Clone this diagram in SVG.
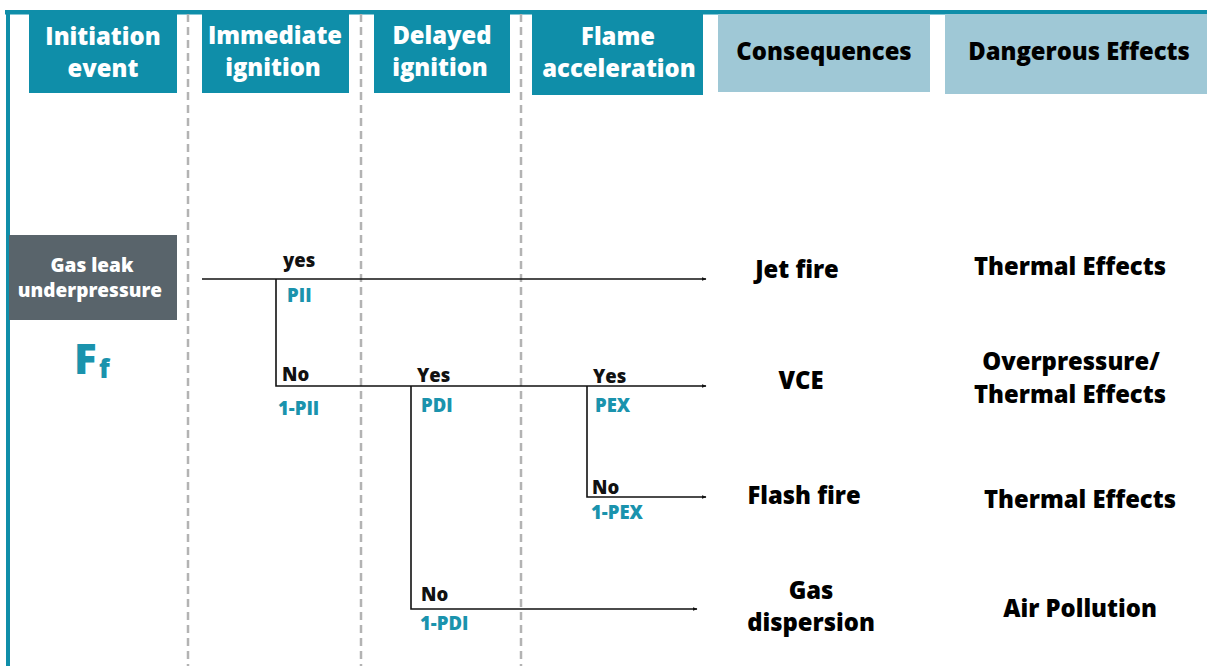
<svg xmlns="http://www.w3.org/2000/svg" width="1207" height="666" viewBox="0 0 1207 666">
<defs>
<marker id="arr" viewBox="0 0 10 10" refX="9" refY="5" markerWidth="5" markerHeight="5" orient="auto" markerUnits="userSpaceOnUse"><path d="M0,1 L10,5 L0,9 z" fill="#111"/></marker>
<style>
text{font-family:"Open Sans","Liberation Sans",sans-serif;font-weight:800}
.hd{fill:#fff;font-size:23.8px;text-anchor:middle}
.hl{fill:#000;font-size:23.8px;text-anchor:middle}
.dark{fill:#0f8ea9}
.light{fill:#9fc8d6}
.dash{stroke:#b3b3b3;stroke-width:2.5;stroke-dasharray:8 5;fill:none}
.ln{stroke:#111;stroke-width:1.6;fill:none}
.lab{fill:#111;font-size:18.5px}
.p{fill:#1a93ad;font-size:18.5px}
.big{fill:#000;font-size:23.8px;text-anchor:middle}
</style>
</defs>
<rect width="1207" height="666" fill="#fff"/>
<g id="frame">
<rect x="5" y="10" width="1202" height="4.5" fill="#0f8ea9"/>
<rect x="6" y="10" width="4" height="656" fill="#0f8ea9"/>
</g>
<g id="dividers">
<line class="dash" x1="188" y1="14" x2="188" y2="666"/>
<line class="dash" x1="361" y1="14" x2="361" y2="666"/>
<line class="dash" x1="521" y1="14" x2="521" y2="666"/>
</g>
<g id="h-initiation"><rect class="dark" x="29" y="14" width="148" height="79"/><text class="hd" x="103" y="45">Initiation</text><text class="hd" x="103" y="77">event</text></g>
<g id="h-immediate"><rect class="dark" x="202" y="10" width="147" height="83"/><text class="hd" x="275" y="44">Immediate</text><text class="hd" x="273" y="76">ignition</text></g>
<g id="h-delayed"><rect class="dark" x="374" y="14" width="136" height="79"/><text class="hd" x="442" y="44">Delayed</text><text class="hd" x="440" y="76">ignition</text></g>
<g id="h-flame"><rect class="dark" x="532" y="14" width="171" height="81"/><text class="hd" x="618" y="45">Flame</text><text class="hd" x="619" y="77">acceleration</text></g>
<g id="h-consequences"><rect class="light" x="718" y="14" width="212" height="78"/><text class="hl" x="824" y="60">Consequences</text></g>
<g id="h-effects"><rect class="light" x="945" y="14" width="262" height="80"/><text class="hl" x="1079" y="60">Dangerous Effects</text></g>
<g id="gas-leak"><rect x="9" y="235" width="168" height="85" fill="#59646b"/><text x="92" y="272" fill="#fff" font-size="19" text-anchor="middle">Gas leak</text><text x="90" y="297" fill="#fff" font-size="19" text-anchor="middle">underpressure</text></g>
<g id="ff"><text x="74" y="374" fill="#1a93ad" font-size="42">F</text><text x="99" y="378" fill="#1a93ad" font-size="26">f</text></g>
<g id="connectors">
<line class="ln" x1="202" y1="279" x2="706" y2="279" marker-end="url(#arr)"/>
<polyline class="ln" points="276,279 276,386 706,386" marker-end="url(#arr)"/>
<polyline class="ln" points="411,386 411,609 697,609" marker-end="url(#arr)"/>
<polyline class="ln" points="587,386 587,497 706,497" marker-end="url(#arr)"/>
</g>
<g id="labels">
<text class="lab" x="283" y="267">yes</text><text class="p" x="287" y="302">PII</text>
<text class="lab" x="282" y="381">No</text><text class="p" x="278" y="415">1-PII</text>
<text class="lab" x="417" y="382">Yes</text><text class="p" x="421" y="412">PDI</text>
<text class="lab" x="593" y="383">Yes</text><text class="p" x="595" y="412">PEX</text>
<text class="lab" x="592" y="494">No</text><text class="p" x="591" y="519">1-PEX</text>
<text class="lab" x="421" y="601">No</text><text class="p" x="420" y="630">1-PDI</text>
</g>
<g id="consequences">
<text class="big" x="797" y="278">Jet fire</text>
<text class="big" x="801" y="389">VCE</text>
<text class="big" x="804" y="504">Flash fire</text>
<text class="big" x="811" y="599">Gas</text><text class="big" x="811" y="631">dispersion</text>
</g>
<g id="effects">
<text class="big" x="1070" y="275">Thermal Effects</text>
<text class="big" x="1071" y="370">Overpressure/</text><text class="big" x="1070" y="403">Thermal Effects</text>
<text class="big" x="1080" y="508">Thermal Effects</text>
<text class="big" x="1080" y="617">Air Pollution</text>
</g>
</svg>
